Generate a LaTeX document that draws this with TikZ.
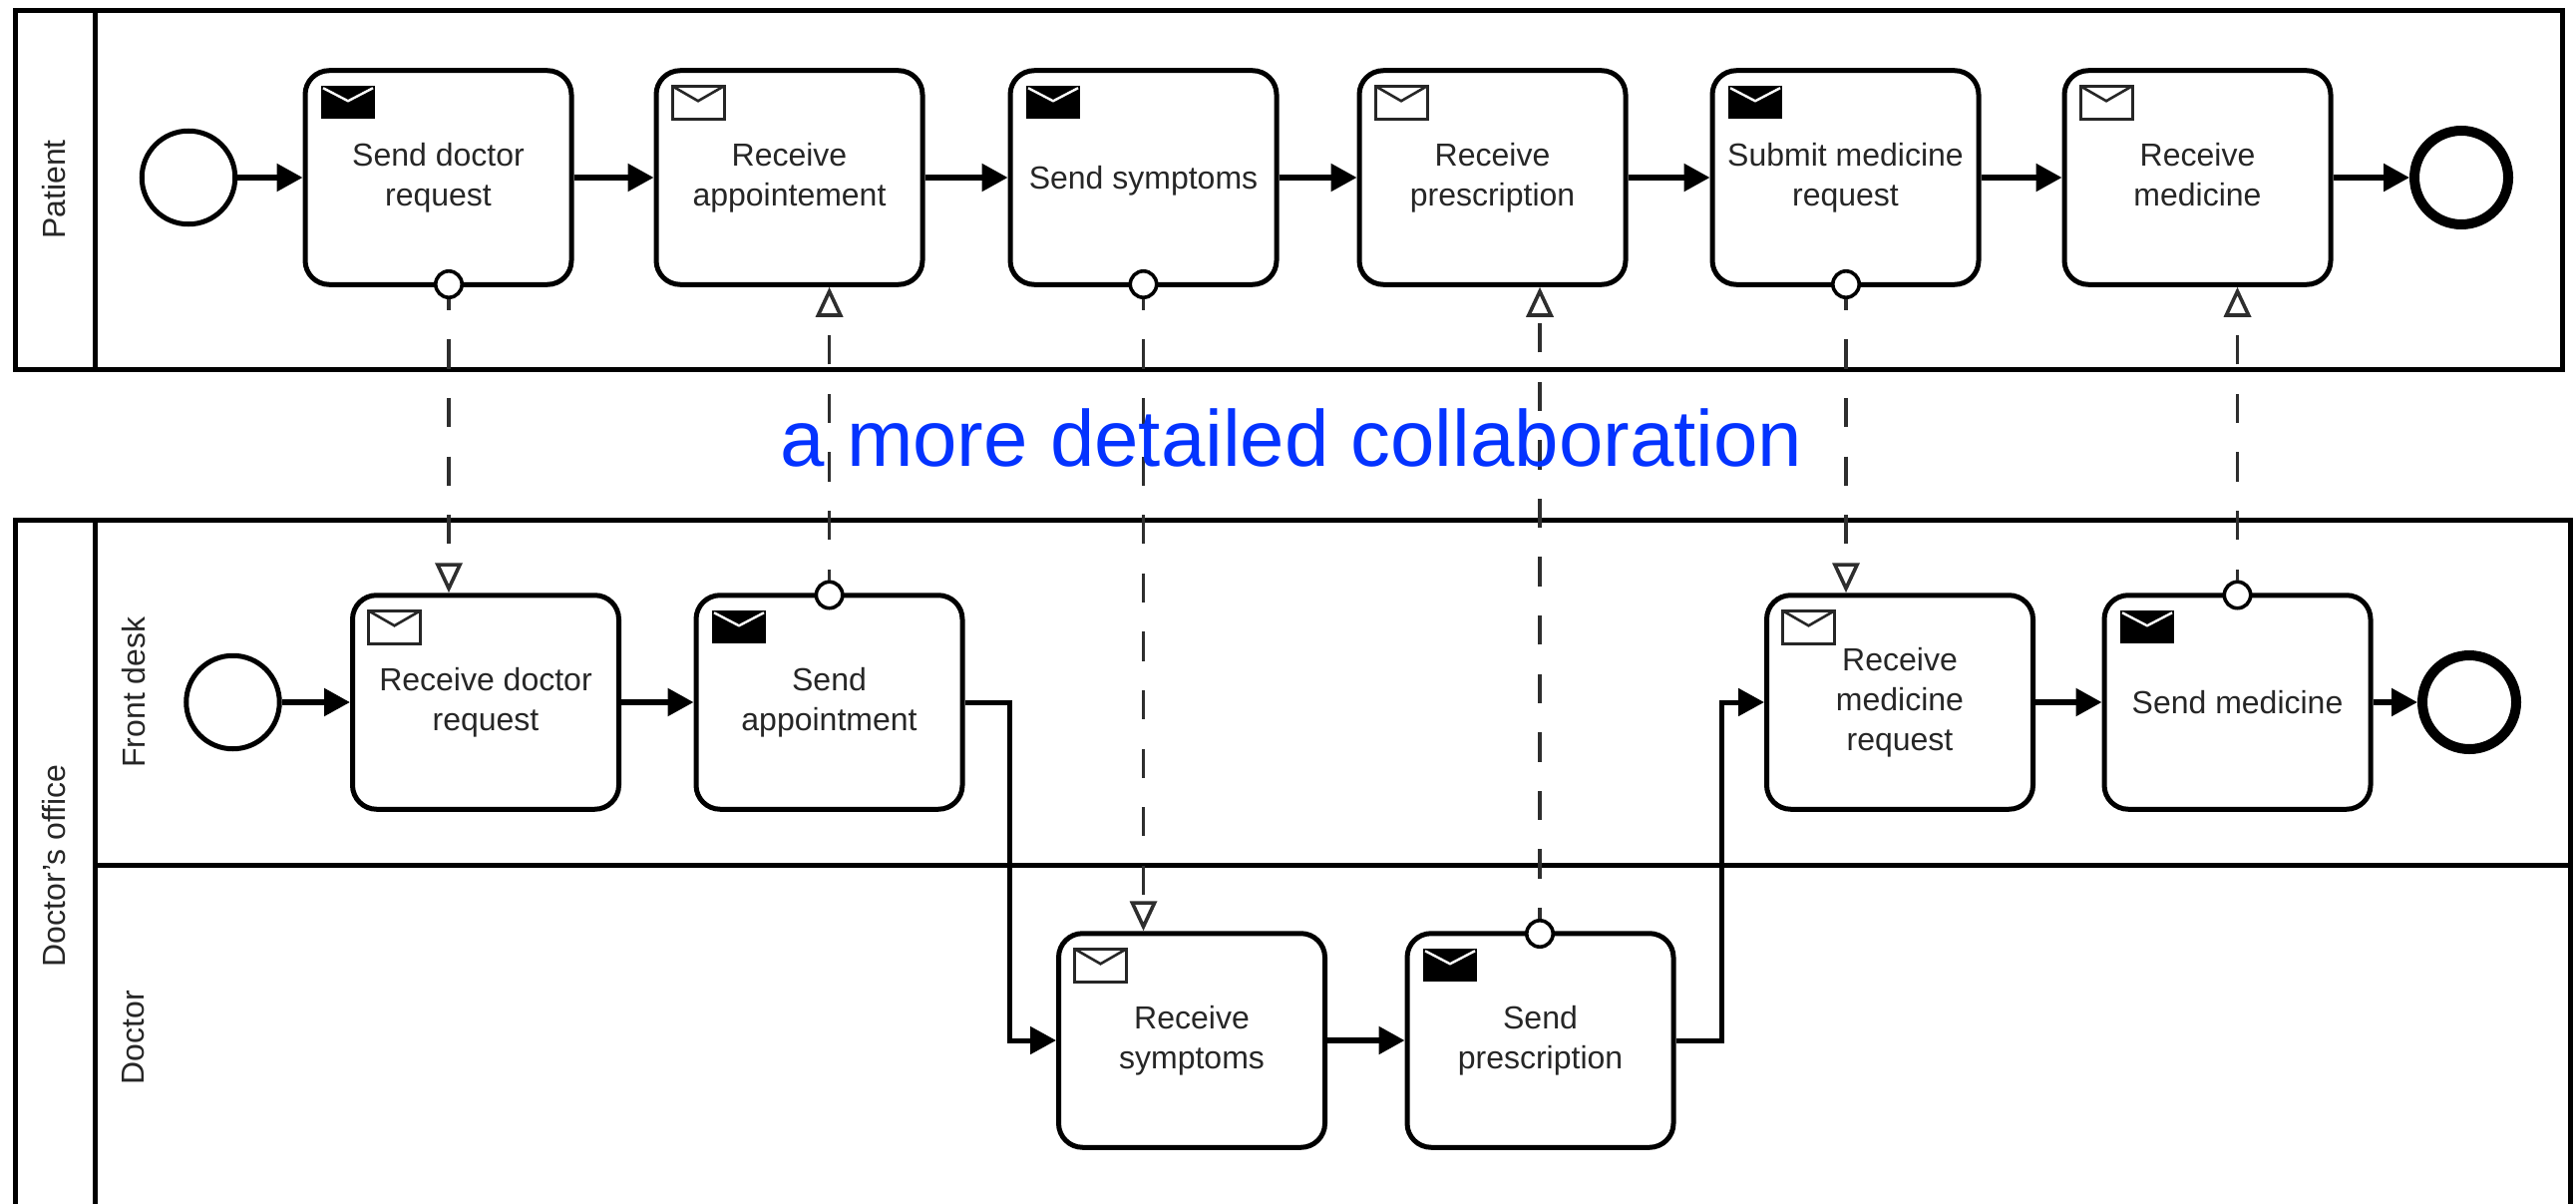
\documentclass[tikz,border=0pt]{standalone}
\usepackage{fontspec}
\setmainfont{Liberation Sans}
\usetikzlibrary{arrows.meta}
\definecolor{inkdark}{HTML}{262626}
\definecolor{dashgrey}{HTML}{2E2E2E}
\definecolor{titleblue}{HTML}{0433FF}
\tikzset{
  poolline/.style={draw=black,line width=5pt,line join=miter},
  taskbox/.style={draw=black,fill=white,line width=5pt,rounded corners=24pt,
    minimum width=267pt,minimum height=214.5pt,inner sep=0pt,align=center,
    text=inkdark,font=\fontsize{32}{40}\selectfont},
  startev/.style={circle,draw=black,fill=white,line width=5pt,minimum size=93.5pt,inner sep=0pt},
  endev/.style={circle,draw=black,fill=white,line width=10pt,minimum size=94pt,inner sep=0pt},
  msgdot/.style={circle,draw=black,fill=white,line width=3.6pt,minimum size=26.4pt,inner sep=0pt},
  seq/.style={draw=black,line width=5.4pt,-{Triangle[length=26pt,width=27pt]}},
  elbow/.style={seq,line width=5pt,line join=miter},
  msg/.style={draw=dashgrey,line width=3.6pt,dash pattern=on 29.3pt off 29.3pt,dash phase=18.3pt,
    -{Triangle[open,length=30pt,width=27pt,line width=3.6pt,fill=white]}},
  lanelabel/.style={rotate=90,text=inkdark,font=\fontsize{32}{40}\selectfont,inner sep=0pt},
  sendenv/.pic={
    \fill[black] (0,0) rectangle (54,33);
    \draw[white,line width=2.4pt] (2,2) -- (27,15) -- (52,2);
  },
  recvenv/.pic={
    \draw[inkdark,line width=3pt,fill=white] (0,0) rectangle (52,33);
    \draw[inkdark,line width=2.6pt] (0,0) -- (26,15) -- (52,0);
  },
}
\begin{document}
\begin{tikzpicture}[x=1pt,y=-1pt]
\useasboundingbox (0,0) rectangle (2583,1207);
% pools and lanes
\draw[poolline] (15.5,10.5) rectangle (2569.6,370);
\draw[poolline] (95,10.5) -- (95,370);
\draw[poolline] (15,1207) -- (15,521.6) -- (2577,521.6) -- (2577,1207);
\draw[poolline] (95.7,521.6) -- (95.7,1207);
\draw[poolline] (95.7,867) -- (2577,867);
\node[lanelabel] (lpatient) at (54.5,190) {Patient};
\node[lanelabel] (loffice) at (54,868) {Doctor's office};
\node[lanelabel] (lfront) at (134,694) {Front desk};
\node[lanelabel] (ldoctor) at (134,1040) {Doctor};
% patient
\node[startev] (s1) at (189,178) {};
\node[taskbox] (t1) at (439.5,178) {Send doctor\\request};
\node[taskbox] (t2) at (791.5,178) {Receive\\appointement};
\node[taskbox] (t3) at (1146.5,178) {\raisebox{0pt}[29.4pt][6.7pt]{Send symptoms}};
\node[taskbox] (t4) at (1496.5,178) {Receive\\prescription};
\node[taskbox] (t5) at (1850.5,178) {Submit medicine\\request};
\node[taskbox] (t6) at (2203.5,178) {Receive\\medicine\vphantom{q}};
\node[endev] (e1) at (2468,178) {};
% front desk
\node[startev] (s2) at (233.5,704) {};
\node[taskbox] (r1) at (487,704) {Receive doctor\\request};
\node[taskbox] (r2) at (831.5,704) {Send\\appointment};
\node[taskbox] (f1) at (1905,704) {Receive\\medicine\\request};
\node[taskbox] (f2) at (2243.5,704) {Send medicine};
\node[endev] (e2) at (2476,704) {};
% doctor
\node[taskbox] (d1) at (1195,1043) {Receive\\symptoms};
\node[taskbox] (d2) at (1544.5,1043) {Send\\prescription};
% envelopes
\foreach \t in {t1,t3,t5,r2,f2,d2}
  \pic at ([shift={(18.5,18)}]\t.north west) {sendenv};
\foreach \t in {t2,t4,t6,r1,f1,d1}
  \pic at ([shift={(18.5,18)}]\t.north west) {recvenv};
% message dots
\node[msgdot] (c1) at (450,285) {};
\node[msgdot] (c2) at (1146.5,285) {};
\node[msgdot] (c3) at (1851,285) {};
\node[msgdot] (c4) at (831.6,596.5) {};
\node[msgdot] (c5) at (2243.5,596.5) {};
\node[msgdot] (c6) at (1544,936) {};
% sequence flows
\draw[seq] (s1) -- (t1);
\draw[seq] (t1) -- (t2);
\draw[seq] (t2) -- (t3);
\draw[seq] (t3) -- (t4);
\draw[seq] (t4) -- (t5);
\draw[seq] (t5) -- (t6);
\draw[seq] (t6) -- (e1);
\draw[seq] (s2) -- (r1);
\draw[seq] (r1) -- (r2);
\coordinate (j1) at (1012,704);
\coordinate (j2) at (1726,704);
\draw[elbow] (r2.east) -- (j1) -- (j1 |- d1.west) -- (d1.west);
\draw[seq] (d1) -- (d2);
\draw[elbow] (d2.east) -- (j2 |- d2.east) -- (j2) -- (f1.west);
\draw[seq] (f1) -- (f2);
\draw[seq] (f2) -- (e2);
% message flows
\draw[msg] (c1.south) -- (c1.south |- r1.north);
\draw[msg] (c2.south) -- (c2.south |- d1.north);
\draw[msg] (c3.south) -- (c3.south |- f1.north);
\draw[msg] (c4.north) -- (c4.north |- t2.south);
\draw[msg] (c5.north) -- (c5.north |- t6.south);
\draw[msg] (c6.north) -- (c6.north |- t4.south);
% title
\node[anchor=base,inner sep=0pt,text=titleblue,font=\fontsize{79.8}{90}\selectfont] (title) at (1295,467) {a more detailed collaboration};
\end{tikzpicture}
\end{document}
